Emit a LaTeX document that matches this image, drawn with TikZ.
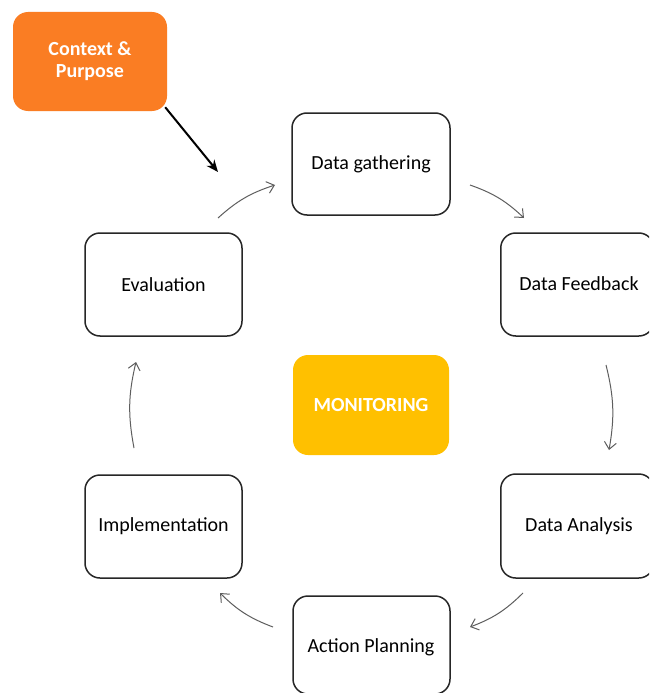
\documentclass[tikz,border=0pt]{standalone}
\usepackage{fontspec}
\setmainfont{Carlito}
\usetikzlibrary{arrows.meta}
\definecolor{ctxorange}{HTML}{FA7D23}
\definecolor{monyellow}{HTML}{FFC000}
\definecolor{arrowgray}{HTML}{5E5E5E}
\tikzset{
  stepbox/.style={draw=black!85, line width=1.5pt, rounded corners=15pt, fill=white, font=\fontsize{20}{23}\selectfont},
  steptext/.style={font=\fontsize{20}{23}\selectfont},
  colbox/.style={rounded corners=15pt, text=white, font=\bfseries\fontsize{20}{22}\selectfont, align=center},
  cyc/.style={draw=arrowgray, line width=1pt, -{Straight Barb[length=7pt,width=12pt]}, bend left=12},
}
\begin{document}
\begin{tikzpicture}[x=1pt,y=1pt]
\useasboundingbox (0,0) rectangle (649,-693);
\fill[white] (0,0) rectangle (649,-693);
\clip (0,0) rectangle (649,-693);
% boxes
\node[colbox, fill=ctxorange, minimum width=154pt, minimum height=99pt] (ctx) at (90,-61.5) {Context \&\\Purpose};
\node[stepbox, minimum width=158pt, minimum height=102pt] (gath) at (371,-164) {Data gathering};
\node[stepbox, minimum width=153pt, minimum height=103pt, anchor=west] (feed) at (500,-284.5) {};
\node[steptext] (feedt) at (579,-284) {Data Feedback};
\node[stepbox, minimum width=153pt, minimum height=104pt, anchor=west] (anal) at (500,-526) {};
\node[steptext] (analt) at (579,-526) {Data Analysis};
\node[stepbox, minimum width=157pt, minimum height=98pt] (act) at (371.5,-645) {};
\node[steptext] (actt) at (371,-647) {Action Planning};
\node[stepbox, minimum width=157pt, minimum height=103pt] (impl) at (163.5,-526.5) {Implementation};
\node[stepbox, minimum width=157pt, minimum height=103pt] (eval) at (163.5,-284.5) {Evaluation};
\node[colbox, fill=monyellow, minimum width=156pt, minimum height=100pt] (mon) at (371,-405) {MONITORING};
% arrow end points
\coordinate (a1s) at (218,-218); \coordinate (a1e) at (275,-185);
\coordinate (a2s) at (470,-185); \coordinate (a2e) at (524,-218);
\coordinate (a3s) at (606,-365); \coordinate (a3e) at (609,-450);
\coordinate (a4s) at (523,-593); \coordinate (a4e) at (470,-627);
\coordinate (a5s) at (273,-627); \coordinate (a5e) at (220,-593);
\coordinate (a6s) at (134,-448); \coordinate (a6e) at (136,-362);
\coordinate (ctxe) at (218,-172);
\draw[cyc] (a1s) to (a1e);
\draw[cyc] (a2s) to (a2e);
\draw[cyc] (a3s) to (a3e);
\draw[cyc] (a4s) to (a4e);
\draw[cyc] (a5s) to (a5e);
\draw[cyc] (a6s) to (a6e);
\draw[line width=2pt, -{Stealth[length=12pt,width=10pt]}] (ctx.south east) ++(-2,4) coordinate (ctxs) (ctxs) -- (ctxe);
\end{tikzpicture}
\end{document}
